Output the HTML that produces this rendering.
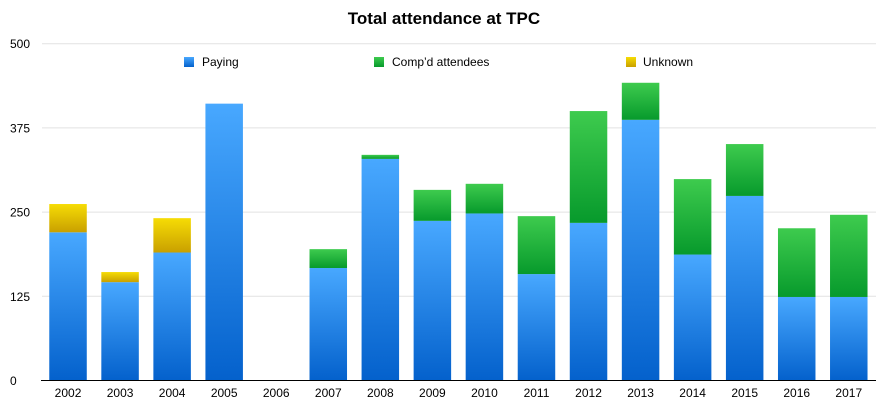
<!DOCTYPE html>
<html><head><meta charset="utf-8"><style>
body{margin:0;background:#fff;font-family:"Liberation Sans",sans-serif}
svg text{font-family:"Liberation Sans",sans-serif}
</style></head><body>
<svg id="c" width="889" height="405" xmlns="http://www.w3.org/2000/svg">
<defs>
<linearGradient id="gb" x1="0" y1="0" x2="0" y2="1"><stop offset="0" stop-color="#48a8ff"/><stop offset="1" stop-color="#0461cc"/></linearGradient>
<linearGradient id="gg" x1="0" y1="0" x2="0" y2="1"><stop offset="0" stop-color="#3ecb4e"/><stop offset="1" stop-color="#079a2c"/></linearGradient>
<linearGradient id="gy" x1="0" y1="0" x2="0" y2="1"><stop offset="0" stop-color="#f6dc05"/><stop offset="1" stop-color="#c9a000"/></linearGradient>
</defs>
<text x="444" y="24" text-anchor="middle" font-size="17" font-weight="bold" fill="#000">Total attendance at TPC</text>
<g id="grid"></g><g id="bars"></g><g id="xl"></g>
<g>
<rect x="184" y="57" width="10" height="10" fill="url(#gb)"/>
<text x="202" y="66" font-size="12">Paying</text>
<rect x="374" y="57" width="10" height="10" fill="url(#gg)"/>
<text x="392" y="66" font-size="12">Comp’d attendees</text>
<rect x="626" y="57" width="10" height="10" fill="url(#gy)"/>
<text x="643" y="66" font-size="12">Unknown</text>
</g>
</svg>
<script>
const years=["2002","2003","2004","2005","2006","2007","2008","2009","2010","2011","2012","2013","2014","2015","2016","2017"];
const paying=[220,146,190,411,0,167,329,237,248,158,234,387,187,274,124,124];
const compd=[0,0,0,0,0,28,6,46,44,86,166,55,112,77,102,122];
const unknown=[42,15,51,0,0,0,0,0,0,0,0,0,0,0,0,0];
const ticks=[0,125,250,375,500];
const NS="http://www.w3.org/2000/svg";
const y=v=>380.5-v*336.8/500;
const x0=42,step=52.05,bw=37.5;
const xc=i=>x0+step*(i+0.5);
const grid=document.getElementById('grid'),bars=document.getElementById('bars'),xl=document.getElementById('xl');
function mk(t,a,p){const e=document.createElementNS(NS,t);for(const k in a)e.setAttribute(k,a[k]);p.appendChild(e);return e;}
ticks.forEach(t=>{
 if(t>0){const l=mk('line',{x1:42,x2:876,y1:y(t),y2:y(t),stroke:'#e2e2e2','stroke-width':1},grid);
 
 }
 const tx=mk('text',{x:10,y:y(t)+4.5,'font-size':12},grid);tx.textContent=t;
 
 
});
years.forEach((yr,i)=>{
 const segs=[[paying[i],'url(#gb)','paying'],[compd[i],'url(#gg)','compd'],[unknown[i],'url(#gy)','unknown']];
 let base=0;
 segs.forEach(s=>{
  if(s[0]>0){const r=mk('rect',{x:xc(i)-bw/2,y:y(base+s[0]),width:bw,height:y(base)-y(base+s[0]),fill:s[1]},bars);
  
  }
  base+=s[0];
 });
 const t=mk('text',{x:xc(i),y:397,'text-anchor':'middle','font-size':12},xl);t.textContent=yr;
 
 
});
const ax=mk('line',{x1:41,x2:876,y1:380.5,y2:380.5,stroke:'#000','stroke-width':1},xl);


</script>
</body></html>
